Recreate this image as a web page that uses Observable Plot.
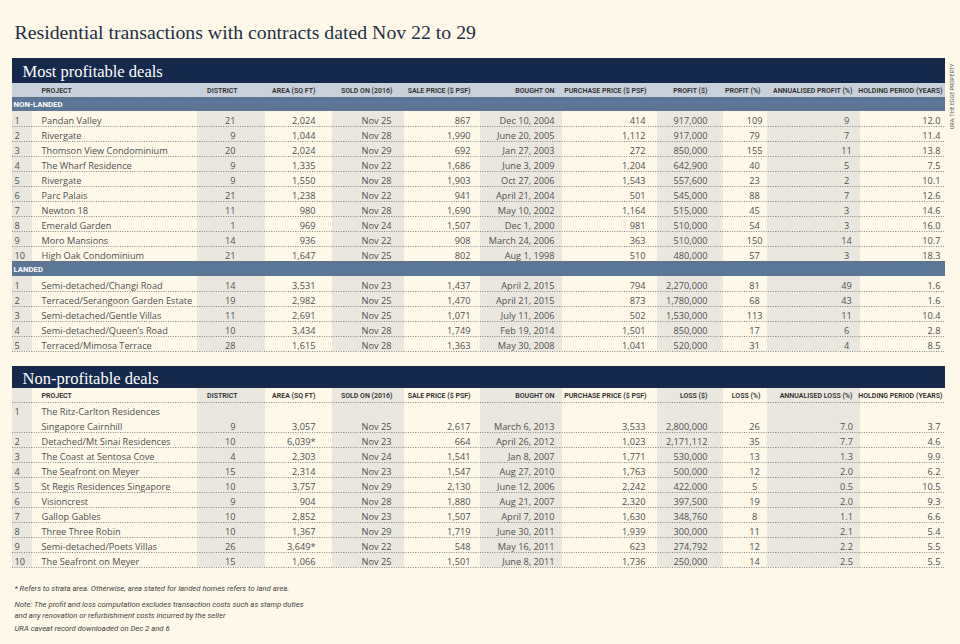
<!DOCTYPE html>
<html><head><meta charset="utf-8">
<script src="https://cdn.jsdelivr.net/npm/d3@7"></script>
<script src="https://cdn.jsdelivr.net/npm/@observablehq/plot@0.6"></script>
<style>
html,body{margin:0;padding:0;background:#fdf8e8;}
#chart{width:960px;height:644px;}
</style></head><body><div id="chart"></div>
<script>
// ---------------- DATA ----------------
const title = "Residential transactions with contracts dated Nov 22 to 29";
const sectionTitles = ["Most profitable deals", "Non-profitable deals"];
const groupLabels = ["NON-LANDED", "LANDED"];
const headersProfit = ["PROJECT","DISTRICT","AREA (SQ FT)","SOLD ON (2016)","SALE PRICE ($ PSF)","BOUGHT ON","PURCHASE PRICE ($ PSF)","PROFIT ($)","PROFIT (%)","ANNUALISED PROFIT (%)","HOLDING PERIOD (YEARS)"];
const headersLoss = ["PROJECT","DISTRICT","AREA (SQ FT)","SOLD ON (2016)","SALE PRICE ($ PSF)","BOUGHT ON","PURCHASE PRICE ($ PSF)","LOSS ($)","LOSS (%)","ANNUALISED LOSS (%)","HOLDING PERIOD (YEARS)"];

// Most profitable: non-landed
const nlProject = ["Pandan Valley","Rivergate","Thomson View Condominium","The Wharf Residence","Rivergate","Parc Palais","Newton 18","Emerald Garden","Moro Mansions","High Oak Condominium"];
const nlDistrict = [21,9,20,9,9,21,11,1,14,21];
const nlArea = [2024,1044,2024,1335,1550,1238,980,969,936,1647];
const nlSold = ["Nov 25","Nov 28","Nov 29","Nov 22","Nov 28","Nov 22","Nov 28","Nov 24","Nov 22","Nov 25"];
const nlSale = [867,1990,692,1686,1903,941,1690,1507,908,802];
const nlBought = ["Dec 10, 2004","June 20, 2005","Jan 27, 2003","June 3, 2009","Oct 27, 2006","April 21, 2004","May 10, 2002","Dec 1, 2000","March 24, 2006","Aug 1, 1998"];
const nlPurchase = [414,1112,272,1204,1543,501,1164,981,363,510];
const nlProfit = [917000,917000,850000,642900,557600,545000,515000,510000,510000,480000];
const nlProfitPct = [109,79,155,40,23,88,45,54,150,57];
const nlAnnual = [9,7,11,5,2,7,3,3,14,3];
const nlHolding = [12.0,11.4,13.8,7.5,10.1,12.6,14.6,16.0,10.7,18.3];

// Most profitable: landed
const ldProject = ["Semi-detached/Changi Road","Terraced/Serangoon Garden Estate","Semi-detached/Gentle Villas","Semi-detached/Queen\u2019s Road","Terraced/Mimosa Terrace"];
const ldDistrict = [14,19,11,10,28];
const ldArea = [3531,2982,2691,3434,1615];
const ldSold = ["Nov 23","Nov 25","Nov 25","Nov 28","Nov 28"];
const ldSale = [1437,1470,1071,1749,1363];
const ldBought = ["April 2, 2015","April 21, 2015","July 11, 2006","Feb 19, 2014","May 30, 2008"];
const ldPurchase = [794,873,502,1501,1041];
const ldProfit = [2270000,1780000,1530000,850000,520000];
const ldProfitPct = [81,68,113,17,31];
const ldAnnual = [49,43,11,6,4];
const ldHolding = [1.6,1.6,10.4,2.8,8.5];

// Non-profitable deals
const lossProject = ["The Ritz-Carlton Residences\nSingapore Cairnhill","Detached/Mt Sinai Residences","The Coast at Sentosa Cove","The Seafront on Meyer","St Regis Residences Singapore","Visioncrest","Gallop Gables","Three Three Robin","Semi-detached/Poets Villas","The Seafront on Meyer"];
const lossDistrict = [9,10,4,15,10,9,10,10,26,15];
const lossArea = ["3,057","6,039*","2,303","2,314","3,757","904","2,852","1,367","3,649*","1,066"];
const lossSold = ["Nov 25","Nov 23","Nov 24","Nov 23","Nov 29","Nov 28","Nov 23","Nov 29","Nov 22","Nov 25"];
const lossSale = [2617,664,1541,1547,2130,1880,1507,1719,548,1501];
const lossBought = ["March 6, 2013","April 26, 2012","Jan 8, 2007","Aug 27, 2010","June 12, 2006","Aug 21, 2007","April 7, 2010","June 30, 2011","May 16, 2011","June 8, 2011"];
const lossPurchase = [3533,1023,1771,1763,2242,2320,1630,1939,623,1736];
const lossAmount = [2800000,2171112,530000,500000,422000,397500,348760,300000,274792,250000];
const lossPct = [26,35,13,12,5,19,8,11,12,14];
const lossAnnual = [7.0,7.7,1.3,2.0,0.5,2.0,1.1,2.1,2.2,2.5];
const lossHolding = [3.7,4.6,9.9,6.2,10.5,9.3,6.6,5.4,5.5,5.5];

const footnotes = [
  "* Refers to strata area. Otherwise, area stated for landed homes refers to land area.",
  "Note: The profit and loss computation excludes transaction costs such as stamp duties",
  "and any renovation or refurbishment costs incurred by the seller",
  "URA caveat record downloaded on Dec 2 and 6"
];
const credit = "URA, THE EDGE PROPERTY";

// ---------------- LAYOUT / STYLE ----------------
const W = 960, H = 644;
const NAVY = "#14294b", HEADBAND = "#c8d1db", SECBAND = "#5c7697", SHADE = "#eae7df";
const TEXT = "#505050";
const BODY = "'Open Sans', sans-serif";
const COND = "'Liberation Sans Narrow','Roboto','Liberation Sans',sans-serif";
const SERIF = "'Liberation Serif','DejaVu Serif',serif";
const colEdges = [12,32,197,265,332,404,480,562,657,723,767,860,945];
const cellX = [14,41,235,315,391,470,554,645,707,754,846,940];
const cellAnchor = ["start","start","end","end","end","end","end","end","end","middle","middle","end"];
const headX = [41,237,315,392,470,554,646,707,760,852,942];
const ROW = 15;
const BODYSIZE = 9.2;

const fmt = d3.format(",");
const f1 = d3.format(".1f");
const asText = v => typeof v === "number" ? fmt(v) : v;
function makeRows(p, d, a, s, sp, b, pp, amt, pct, ann, hold, annFmt) {
  return p.map((name, i) => [String(i + 1), name, String(d[i]), asText(a[i]), s[i], fmt(sp[i]), b[i], fmt(pp[i]), fmt(amt[i]), String(pct[i]), annFmt(ann[i]), f1(hold[i])]);
}
const nlRows = makeRows(nlProject, nlDistrict, nlArea, nlSold, nlSale, nlBought, nlPurchase, nlProfit, nlProfitPct, nlAnnual, nlHolding, String);
const ldRows = makeRows(ldProject, ldDistrict, ldArea, ldSold, ldSale, ldBought, ldPurchase, ldProfit, ldProfitPct, ldAnnual, ldHolding, String);
const lossRows = makeRows(lossProject, lossDistrict, lossArea, lossSold, lossSale, lossBought, lossPurchase, lossAmount, lossPct, lossAnnual, lossHolding, f1);

const bars = [], barTitles = [], headBands = [], secBands = [], groupCells = [], shades = [], rules = [], headCells = [], cells = [];
function addRow(r, y0) {
  const h = r[1].includes("\n") ? ROW * 2 : ROW;
  r.forEach((t, j) => cells.push({text: t, x: cellX[j], anchor: cellAnchor[j],
    y: j === 0 ? y0 + ROW / 2 : j === 1 ? y0 + h / 2 : y0 + h - ROW / 2}));
  rules.push(y0 + h);
  return y0 + h;
}
function addShades(y1, y2) {
  for (let j = 0; j < colEdges.length - 1; j += 2) shades.push({x1: colEdges[j], x2: colEdges[j + 1], y1, y2});
}
function addHeaders(hdrs, y0, h) {
  hdrs.forEach((t, j) => headCells.push({text: t, x: headX[j], anchor: j === 0 ? "start" : "end", y: y0 + h / 2}));
  rules.push(y0 + h);
}
// Table 1
let y = 58;
bars.push({y1: y, y2: y + 25}); barTitles.push({text: sectionTitles[0], y: y + 13}); y += 25;
headBands.push({y1: y, y2: y + 14}); addHeaders(headersProfit, y, 14); y += 14;
let top1 = y;
secBands.push({y1: y, y2: y + 14}); groupCells.push({text: groupLabels[0], y: y + 7}); y += 14;
for (const r of nlRows) y = addRow(r, y);
secBands.push({y1: y, y2: y + 15}); groupCells.push({text: groupLabels[1], y: y + 7.5}); y += 15;
for (const r of ldRows) y = addRow(r, y);
addShades(top1, y);
// Table 2
y = 366;
bars.push({y1: y, y2: y + 22}); barTitles.push({text: sectionTitles[1], y: y + 12}); y += 22;
let top2 = y;
addHeaders(headersLoss, y, 14); y += 14;
for (const r of lossRows) y = addRow(r, y);
addShades(top2, y);

const footY = [588, 604, 615, 628];
const footData = footnotes.map((t, i) => ({text: t, y: footY[i]}));

const textOpts = {x: "x", y: "y", text: "text", fontFamily: BODY, fontSize: BODYSIZE, fill: TEXT, lineHeight: ROW / BODYSIZE};
const chart = Plot.plot({
  width: W, height: H, margin: 0,
  x: {domain: [0, W], range: [0, W], axis: null},
  y: {domain: [0, H], range: [0, H], axis: null},
  style: {background: "transparent", overflow: "visible"},
  marks: [
    Plot.rect(shades, {x1: "x1", x2: "x2", y1: "y1", y2: "y2", fill: SHADE}),
    Plot.rect(headBands, {x1: colEdges[0], x2: colEdges[colEdges.length - 1], y1: "y1", y2: "y2", fill: HEADBAND}),
    Plot.rect(secBands, {x1: colEdges[0], x2: colEdges[colEdges.length - 1], y1: "y1", y2: "y2", fill: SECBAND}),
    Plot.rect(bars, {x1: colEdges[0], x2: colEdges[colEdges.length - 1], y1: "y1", y2: "y2", fill: NAVY}),
    Plot.ruleY(rules, {x1: colEdges[0], x2: colEdges[colEdges.length - 1], stroke: "#6b6b6b", strokeWidth: 0.8, strokeDasharray: "1,1.4"}),
    Plot.text([title], {x: 14, y: 32, text: d => d, textAnchor: "start", fontFamily: SERIF, fontSize: 19.8, fill: "#1e2f46"}),
    Plot.text(barTitles, {x: 22, y: "y", text: "text", textAnchor: "start", fontFamily: SERIF, fontSize: 16.5, fill: "white"}),
    Plot.text(groupCells, {x: 13, y: "y", text: "text", textAnchor: "start", fontFamily: COND, fontSize: 7.8, fontWeight: "bold", fill: "white"}),
    ...["start", "end"].map(a => Plot.text(headCells.filter(d => d.anchor === a), {x: "x", y: "y", text: "text", textAnchor: a, fontFamily: COND, fontSize: 7, fontWeight: 600, fill: "#2f2f2f"})),
    ...["start", "end", "middle"].map(a => Plot.text(cells.filter(d => d.anchor === a), {...textOpts, textAnchor: a})),
    Plot.text(footData, {x: 14, y: "y", text: "text", textAnchor: "start", fontFamily: COND, fontSize: 7.7, fontStyle: "italic", fill: "#444"}),
    Plot.text([credit], {x: 952, y: 96, text: d => d, rotate: -90, textAnchor: "middle", fontFamily: COND, fontSize: 5.4, fill: "#555"})
  ]
});
document.getElementById("chart").appendChild(chart);
</script>
</body></html>
